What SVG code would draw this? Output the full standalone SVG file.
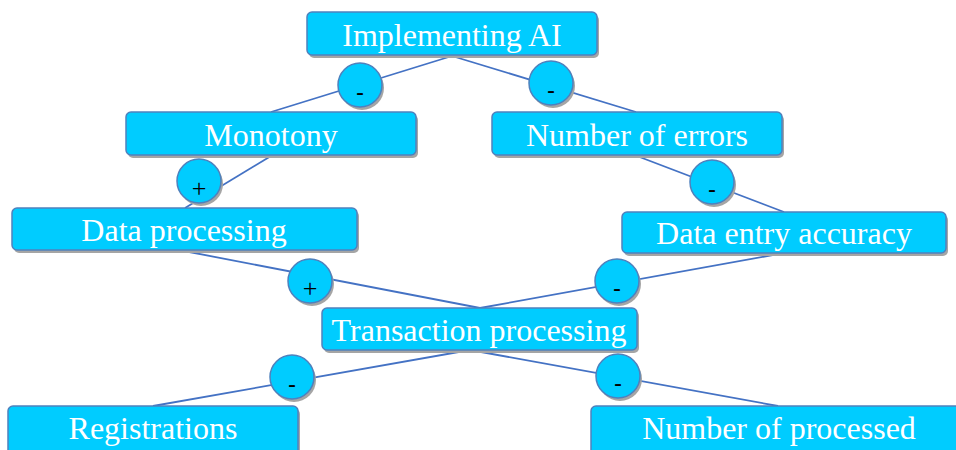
<svg xmlns="http://www.w3.org/2000/svg" width="956" height="450" viewBox="0 0 956 450">
  <defs>
    <style>
      .box { fill: #00CCFF; stroke: #4F81BD; stroke-width: 1.5; }
      .shadow { fill: #A5A5A5; }
      .label { font-family: "Liberation Serif", "Times New Roman", serif; font-size: 32px; fill: #FFFFFF; text-anchor: middle; }
      .link { stroke: #4472C4; stroke-width: 1.8; fill: none; }
      .badge { fill: #00CCFF; stroke: #4F81BD; stroke-width: 1.5; }
      .sign { font-family: "Liberation Sans", Arial, sans-serif; font-size: 24px; fill: #000000; text-anchor: middle; }
      .plus { font-family: "Liberation Serif", "Times New Roman", serif; font-size: 26px; fill: #000000; text-anchor: middle; }
    </style>
  </defs>
  <rect width="956" height="450" fill="#FFFFFF"/>

  <!-- links between factors -->
  <g id="connectors">
    <line class="link" x1="452" y1="56" x2="271" y2="112"/>
    <line class="link" x1="452" y1="56" x2="636" y2="112"/>
    <line class="link" x1="271" y1="156" x2="185" y2="208"/>
    <line class="link" x1="637" y1="156" x2="784" y2="212"/>
    <line class="link" x1="184" y1="251" x2="480" y2="308"/>
    <line class="link" x1="784" y1="253" x2="480" y2="308"/>
    <line class="link" x1="470" y1="350" x2="153" y2="406"/>
    <line class="link" x1="470" y1="350" x2="778" y2="406"/>
  </g>

  <!-- factor nodes -->
  <g id="implementing-ai">
    <rect class="shadow" x="309" y="15" width="290" height="43" rx="5"/>
    <rect class="box" x="307" y="12" width="290" height="43" rx="5"/>
    <text class="label" x="452" y="46">Implementing AI</text>
  </g>
  <g id="monotony">
    <rect class="shadow" x="128" y="115" width="290" height="43" rx="5"/>
    <rect class="box" x="126" y="112" width="290" height="43" rx="5"/>
    <text class="label" x="271" y="146">Monotony</text>
  </g>
  <g id="number-of-errors">
    <rect class="shadow" x="494" y="115" width="290" height="43" rx="5"/>
    <rect class="box" x="492" y="112" width="290" height="43" rx="5"/>
    <text class="label" x="637" y="146">Number of errors</text>
  </g>
  <g id="data-processing">
    <rect class="shadow" x="14" y="211" width="345" height="42" rx="5"/>
    <rect class="box" x="12" y="208" width="345" height="42" rx="5"/>
    <text class="label" x="184" y="241">Data processing</text>
  </g>
  <g id="data-entry-accuracy">
    <rect class="shadow" x="624" y="215" width="324" height="41" rx="5"/>
    <rect class="box" x="622" y="212" width="324" height="41" rx="5"/>
    <text class="label" x="784" y="244">Data entry accuracy</text>
  </g>
  <g id="transaction-processing">
    <rect class="shadow" x="324" y="311" width="315" height="42" rx="5"/>
    <rect class="box" x="322" y="308" width="315" height="42" rx="5"/>
    <text class="label" x="479" y="341">Transaction processing</text>
  </g>
  <g id="registrations">
    <rect class="shadow" x="10" y="409" width="290" height="50" rx="5"/>
    <rect class="box" x="8" y="406" width="290" height="50" rx="5"/>
    <text class="label" x="153" y="439">Registrations</text>
  </g>
  <g id="number-of-processed">
    <rect class="shadow" x="593" y="409" width="376" height="50" rx="5"/>
    <rect class="box" x="591" y="406" width="376" height="50" rx="5"/>
    <text class="label" x="779" y="439">Number of processed</text>
  </g>

  <!-- polarity badges on the links -->
  <g id="polarity">
    <circle class="shadow" cx="362" cy="88" r="22"/>
    <circle class="badge" cx="360" cy="85" r="22"/>
    <text class="sign" x="360" y="100">-</text>

    <circle class="shadow" cx="553" cy="86" r="22"/>
    <circle class="badge" cx="551" cy="83" r="22"/>
    <text class="sign" x="551" y="98">-</text>

    <circle class="shadow" cx="201" cy="184" r="22"/>
    <circle class="badge" cx="199" cy="181" r="22"/>
    <text class="plus" x="199" y="197">+</text>

    <circle class="shadow" cx="714" cy="185" r="22"/>
    <circle class="badge" cx="712" cy="182" r="22"/>
    <text class="sign" x="712" y="197">-</text>

    <circle class="shadow" cx="312" cy="284" r="22"/>
    <circle class="badge" cx="310" cy="281" r="22"/>
    <text class="plus" x="310" y="297">+</text>

    <circle class="shadow" cx="619" cy="284" r="22"/>
    <circle class="badge" cx="617" cy="281" r="22"/>
    <text class="sign" x="617" y="296">-</text>

    <circle class="shadow" cx="294" cy="380" r="22"/>
    <circle class="badge" cx="292" cy="377" r="22"/>
    <text class="sign" x="292" y="392">-</text>

    <circle class="shadow" cx="620" cy="379" r="22"/>
    <circle class="badge" cx="618" cy="376" r="22"/>
    <text class="sign" x="618" y="391">-</text>
  </g>
</svg>
